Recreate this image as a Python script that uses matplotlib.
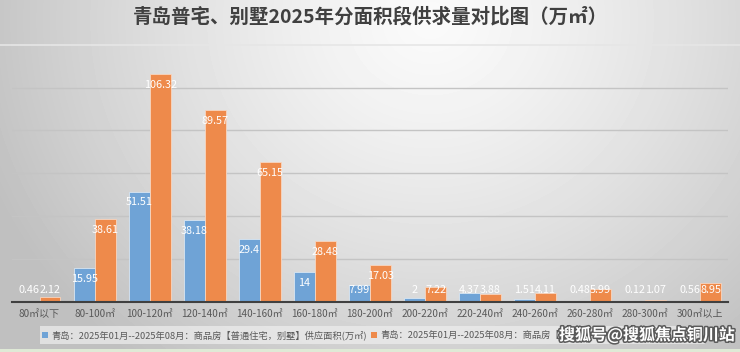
import numpy as np
import matplotlib
matplotlib.use("Agg")
import matplotlib.pyplot as plt
import matplotlib.patheffects as pe
from matplotlib.patches import Rectangle

plt.rcParams['font.family'] = ['Noto Sans CJK SC', 'DejaVu Sans']

title = "青岛普宅、别墅2025年分面积段供求量对比图（万㎡）"
categories = ["80㎡以下", "80-100㎡", "100-120㎡", "120-140㎡", "140-160㎡", "160-180㎡",
              "180-200㎡", "200-220㎡", "220-240㎡", "240-260㎡", "260-280㎡", "280-300㎡", "300㎡以上"]
supply = [0.46, 15.95, 51.51, 38.18, 29.4, 14, 7.99, 2, 4.37, 1.51, 0.48, 0.12, 0.56]
deal = [2.12, 38.61, 106.32, 89.57, 65.15, 28.48, 17.03, 7.22, 3.88, 4.11, 5.99, 1.07, 8.95]
supply_name = "青岛：2025年01月--2025年08月：商品房【普通住宅，别墅】供应面积(万㎡)"
# second legend entry: only the part not hidden by the watermark is visible
deal_name_visible = "青岛：2025年01月--2025年08月：商品房【普"
watermark = "搜狐号@搜狐焦点铜川站"

W, H = 740, 352
fig = plt.figure(figsize=(W / 100, H / 100), dpi=100)

# background gradient
bg = fig.add_axes([0, 0, 1, 1])
yy, xx = np.mgrid[0:H, 0:W]
d = np.sqrt(((xx - 430) / 460.0) ** 2 + ((yy - 20) / 420.0) ** 2)
val = np.clip(250 - 56 * d ** 1.3, 192, 250) / 255.0
bg.imshow(val, cmap='gray', vmin=0, vmax=1, extent=[0, W, H, 0], aspect='auto')
bg.set_xlim(0, W)
bg.set_ylim(H, 0)
bg.axis('off')
bg.plot([0, W], [45, 45], color='#e6e6e6', lw=1.2)
bg.add_patch(Rectangle((40, 326), 665, 18, facecolor='#eeeeee', edgecolor='none', alpha=0.7))
bg.add_patch(Rectangle((0, 349), W, 3, facecolor='#dfe9d6', edgecolor='none'))

# main axes
ax = fig.add_axes([12 / W, 1 - 302 / H, 716 / W, 257.4 / H])
ax.patch.set_alpha(0)
x = np.arange(len(categories))
bw = 0.38
ax.set_xlim(-0.5, len(categories) - 0.5)
ax.set_ylim(0, 120)
for y in [20, 40, 60, 80, 100]:
    ax.axhline(y, color='#c4c4c4', lw=1.0, zorder=0)
b1 = ax.bar(x - bw / 2, supply, bw, color='#6fa3d6', edgecolor='#d8e6f3', linewidth=0.6, zorder=2)
b2 = ax.bar(x + bw / 2, deal, bw, color='#ee8a4b', edgecolor='#f8d6c0', linewidth=0.6, zorder=2)

lab_font = ['Liberation Sans Narrow', 'Noto Sans CJK SC', 'DejaVu Sans']
for xs, vals in [(x - bw / 2, supply), (x + bw / 2, deal)]:
    for xi, v in zip(xs, vals):
        ax.text(xi, max(v - 5.1, 5.6), f"{v:g}", ha='center', va='center', color='white',
                fontsize=7.8, family=lab_font, zorder=3)

for s in ['top', 'right', 'left']:
    ax.spines[s].set_visible(False)
ax.spines['bottom'].set_color('#404040')
ax.spines['bottom'].set_linewidth(1.5)
ax.set_yticks([])
ax.set_xticks(x)
ax.set_xticklabels(categories, fontsize=7.2, color='#595959')
ax.tick_params(axis='x', length=0, pad=5)

# title
fig.text(0.5, 1 - 17 / H, title, ha='center', va='center', fontsize=14, fontweight='bold', color='#404040')

# legend
for sx, name, col in [(45, supply_name, '#6fa3d6'), (374, deal_name_visible, '#ee8a4b')]:
    bg.add_patch(Rectangle((sx - 3, 332), 6, 6, facecolor=col, edgecolor='none'))
    bg.text(sx + 6, 335, name, ha='left', va='center', fontsize=6.7, color='#595959')

# watermark
bg.text(647, 335, watermark, ha='center', va='center', fontsize=11.5, fontweight='bold', color='white',
        path_effects=[pe.withStroke(linewidth=2.2, foreground='#5a5a5a')])

fig.savefig("out.png", dpi=100)
